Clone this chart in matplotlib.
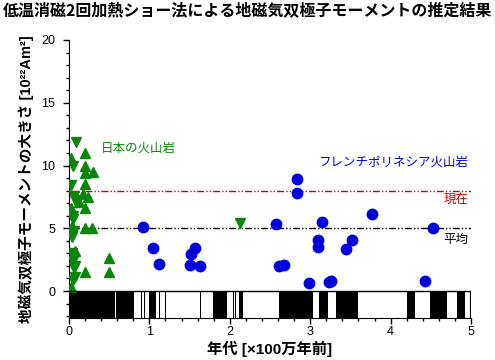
import matplotlib
matplotlib.use('Agg')
import matplotlib.pyplot as plt
from matplotlib.ticker import MultipleLocator

plt.rcParams['font.family'] = ['Liberation Sans', 'Noto Sans CJK JP']

# Japanese volcanic rocks (green triangles), age in Ma, moment in 10^22 Am^2
jp_up_age = [0.2, 0.025, 0.2, 0.2, 0.30, 0.2, 0.18, 0.24, 0.12, 0.025, 0.2,
             0.04, 0.2, 0.29, 0.075, 0.2, 0.5, 0.5, 0.025]
jp_up_vdm = [11.0, 10.6, 10.0, 9.4, 9.5, 8.5, 7.7, 7.5, 7.1, 6.6, 6.6,
             5.2, 5.0, 5.0, 3.2, 1.5, 2.6, 1.5, 0.3]
jp_dn_age = [0.087, 0.046, 0.025, 0.066, 0.075, 0.054, 0.046, 0.06, 0.033,
             0.033, 0.054, 0.075, 0.06, 0.075, 0.05, 2.13]
jp_dn_vdm = [11.9, 10.0, 8.45, 7.6, 7.25, 6.0, 5.7, 4.8, 4.3,
             3.05, 2.4, 2.0, 1.8, 1.1, 0.9, 5.4]

# French Polynesian volcanic rocks (blue circles)
fp_age = [0.92, 1.04, 1.12, 1.52, 1.57, 1.51, 1.63, 2.57, 2.61, 2.68,
          2.84, 2.84, 2.98, 3.10, 3.10, 3.15, 3.23, 3.26, 3.45, 3.52,
          3.77, 4.43, 4.53]
fp_vdm = [5.07, 3.43, 2.12, 2.95, 3.4, 2.1, 2.0, 5.34, 1.97, 2.05,
          8.9, 7.8, 0.61, 4.06, 3.48, 5.5, 0.69, 0.8, 3.32, 4.06,
          6.1, 0.8, 5.0]

present_vdm = 8.0
mean_vdm = 5.0

# normal polarity intervals (black) for the bar at the bottom
normal_start = [0.0, 0.59, 0.90, 0.93, 1.00, 1.12, 1.20, 1.63, 1.79, 2.04, 2.07,
                2.12, 2.61, 3.11, 3.32, 4.21, 4.49, 4.83]
normal_end = [0.57, 0.81, 0.912, 0.942, 1.08, 1.132, 1.212, 1.642, 1.97, 2.052, 2.082,
              2.16, 3.03, 3.22, 3.59, 4.30, 4.70, 4.93]

band_bottom = -2.15

fig = plt.figure(figsize=(4.95, 3.6), dpi=100)
ax = fig.add_axes([69 / 495, 1 - 318 / 360, 402 / 495, 278 / 360])

green = '#0a870a'
blue = '#0000dd'

ax.axhline(present_vdm, color='#d00000', lw=1, dashes=(5, 1.5, 1, 1.5, 1, 1.5), zorder=1)
ax.axhline(mean_vdm, color='black', lw=1, dashes=(5, 1.5, 1, 1.5, 1, 1.5), zorder=1)

ax.plot(jp_up_age, jp_up_vdm, ls='none', marker='^', ms=7.8, color=green, mec=green, zorder=3)
ax.plot(jp_dn_age, jp_dn_vdm, ls='none', marker='v', ms=7.8, color=green, mec=green, zorder=3)
ax.plot(fp_age, fp_vdm, ls='none', marker='o', ms=7.5, color=blue, mec=blue, zorder=3)

bars = [(s, e - s) for s, e in zip(normal_start, normal_end)]
ax.broken_barh(bars, (band_bottom, -band_bottom), facecolors='black', edgecolor='none', zorder=2)
ax.axhline(0, color='black', lw=1, zorder=4)
ax.vlines(5, band_bottom, 0, color='black', lw=1.5, zorder=4)

ax.text(0.39, 11.4, '日本の火山岩', color=green, fontsize=9, style='italic',
        family=['Noto Sans CJK JP'], va='center')
ax.text(4.97, 10.3, 'フレンチポリネシア火山岩', color=blue, fontsize=9, style='italic',
        family=['Noto Sans CJK JP'], va='center', ha='right')
ax.text(4.97, 7.2, '現在', color='#d00000', fontsize=9, style='italic',
        family=['Noto Sans CJK JP'], va='center', ha='right')
ax.text(4.97, 4.1, '平均', color='black', fontsize=9, style='italic',
        family=['Noto Sans CJK JP'], va='center', ha='right')

ax.set_xlim(0, 5)
ax.set_ylim(band_bottom, 20)
ax.spines['top'].set_visible(False)
ax.spines['right'].set_visible(False)
ax.set_yticks([0, 5, 10, 15, 20])
ax.yaxis.set_minor_locator(MultipleLocator(1))
ax.xaxis.set_major_locator(MultipleLocator(1))
ax.xaxis.set_minor_locator(MultipleLocator(0.2))
ax.tick_params(which='major', length=4, width=1, labelsize=9, direction='out')
ax.tick_params(which='minor', length=2.2, width=1, direction='out')
ax.tick_params(axis='y', pad=6)
ax.tick_params(axis='x', pad=2)

ax.set_xlabel('年代 [×100万年前]', fontsize=11, fontweight='bold', labelpad=2)
ax.set_ylabel('地磁気双極子モーメントの大きさ [10²²Am²]', fontsize=10.5, fontweight='bold', labelpad=5)

fig.suptitle('低温消磁2回加熱ショー法による地磁気双極子モーメントの推定結果',
             fontsize=11.5, fontweight='bold', x=0.5, y=0.995,
             family=['Noto Sans CJK JP'])

fig.savefig('out.png', dpi=100)
